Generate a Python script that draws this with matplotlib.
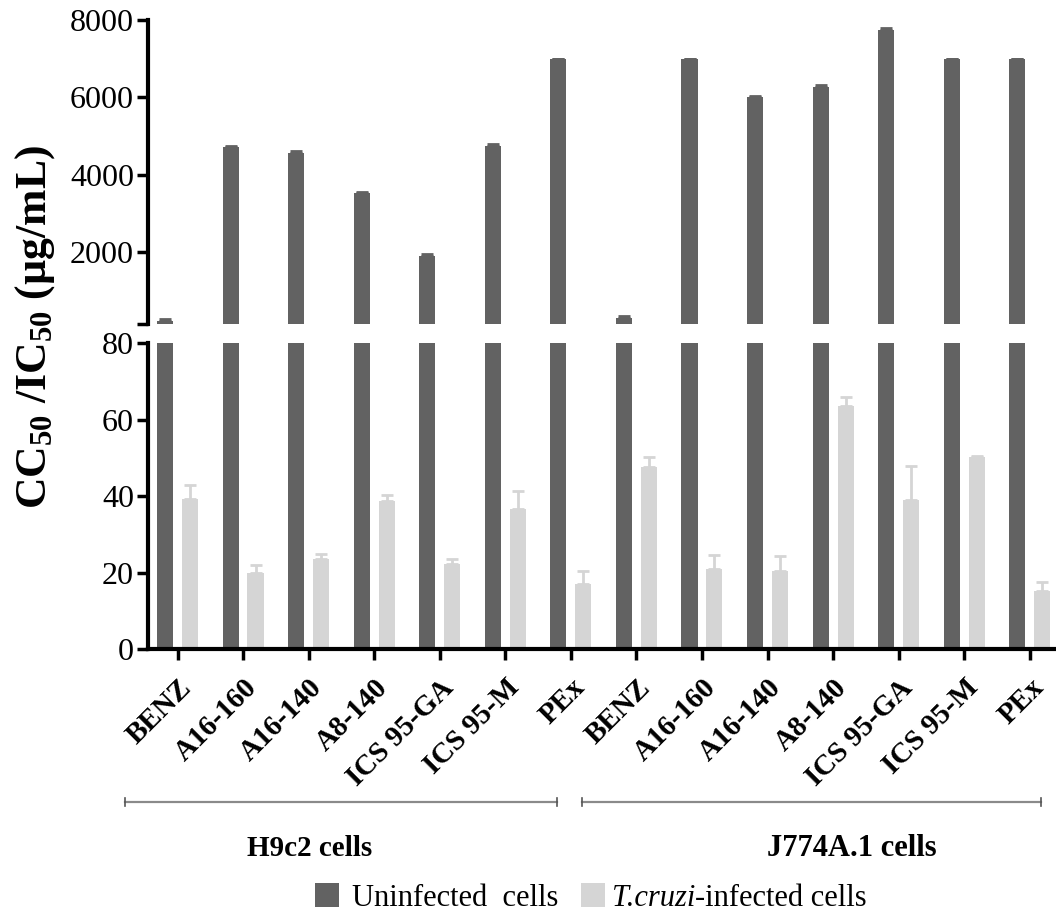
import matplotlib
matplotlib.use("Agg")
import matplotlib.pyplot as plt
from matplotlib.lines import Line2D
from matplotlib.patches import Rectangle
import numpy as np

plt.rcParams['font.family'] = ['Liberation Serif', 'DejaVu Serif']
plt.rcParams['mathtext.fontset'] = 'custom'
plt.rcParams['mathtext.rm'] = 'Liberation Serif'
plt.rcParams['mathtext.it'] = 'Liberation Serif:italic'
plt.rcParams['mathtext.bf'] = 'Liberation Serif:bold'

# ---- data ----
compounds = ["BENZ", "A16-160", "A16-140", "A8-140", "ICS 95-GA", "ICS 95-M", "PEx"]
cell_lines = ["H9c2 cells", "J774A.1 cells"]
categories = compounds + compounds

uninfected = [228, 4710, 4570, 3520, 1910, 4750, 7000,
              305, 7000, 6000, 6280, 7750, 7000, 7000]
uninfected_err = [40, 40, 40, 40, 40, 40, 0,
                  40, 0, 40, 40, 40, 0, 0]
infected = [39.3, 19.8, 23.4, 38.6, 22.2, 36.6, 17.0,
            47.5, 20.8, 20.4, 63.6, 38.9, 50.1, 15.1]
infected_err = [3.5, 2.1, 1.5, 1.6, 1.2, 4.6, 3.4,
                2.6, 3.9, 3.9, 2.2, 9.0, 0.4, 2.5]

legend_1 = "Uninfected  cells"
legend_2_it = "T.cruzi"
legend_2_rest = "-infected cells"
ylabel = r"CC$_{\mathbf{50}}$ /IC$_{\mathbf{50}}$ (µg/mL)"

dark = "#626262"
light = "#d5d5d5"

W, H = 1056, 913
fig = plt.figure(figsize=(W / 100, H / 100), dpi=100)

def fx(px):
    return px / W

def fy(py):
    return 1 - py / H

left = fx(148)
right = 1.0
ax_top = fig.add_axes([left, fy(324), right - left, fy(20) - fy(324)])
ax_bot = fig.add_axes([left, fy(649), right - left, fy(343) - fy(649)])

x = np.arange(len(categories))
off = 0.19
bw = 0.245

for ax in (ax_top, ax_bot):
    ax.bar(x - off, uninfected, width=bw, color=dark, zorder=2,
           yerr=[np.zeros(len(x)), uninfected_err], ecolor=dark,
           error_kw=dict(capsize=4, capthick=2, elinewidth=2))
    ax.bar(x + off, infected, width=bw, color=light, zorder=2,
           yerr=[np.zeros(len(x)), infected_err], ecolor=light,
           error_kw=dict(capsize=4, capthick=2, elinewidth=2))
    ax.set_xlim(-0.45, 13.4)
    for s in ("top", "right"):
        ax.spines[s].set_visible(False)
    ax.spines["left"].set_linewidth(3)
    ax.tick_params(axis="y", length=8, width=2.5, labelsize=23, pad=2)

# top (broken) axis
ax_top.set_ylim(150, 8000)
ax_top.set_yticks([150, 2000, 4000, 6000, 8000])
ax_top.set_yticklabels(["", "2000", "4000", "6000", "8000"])
ax_top.spines["bottom"].set_visible(False)
ax_top.tick_params(axis="x", bottom=False, labelbottom=False)

# bottom axis
ax_bot.set_ylim(0, 80)
ax_bot.set_yticks([0, 20, 40, 60, 80])
ax_bot.spines["bottom"].set_linewidth(3)
ax_bot.set_xticks(x)
ax_bot.set_xticklabels(categories, rotation=45, ha="right", va="top",
                       rotation_mode="anchor", fontsize=21, fontweight="bold")
ax_bot.tick_params(axis="x", length=8, width=2.5, pad=10)

# y label
fig.text(fx(35), fy(327), ylabel, rotation=90, ha="center", va="center",
         fontsize=31.5, fontweight="bold")

# group brackets
for (x0, x1) in [(125, 557), (582, 1041)]:
    fig.add_artist(Line2D([fx(x0), fx(x1)], [fy(802), fy(802)],
                          color="#8a8a8a", lw=1.6))
    for xe in (x0, x1):
        fig.add_artist(Line2D([fx(xe), fx(xe)], [fy(798), fy(806)],
                              color="#555555", lw=1.2))

fig.text(fx(310), fy(849), cell_lines[0], ha="center", va="center",
         fontsize=21, fontweight="bold")
fig.text(fx(852), fy(849), cell_lines[1], ha="center", va="center",
         fontsize=22, fontweight="bold")

# legend (manual)
sq = 24
ly = 895
fig.add_artist(Rectangle((fx(315), fy(ly + sq / 2)), fx(sq), sq / H,
                         facecolor=dark, edgecolor="none"))
t1 = fig.text(fx(352), fy(ly), legend_1, ha="left", va="center_baseline", fontsize=22)
fig.add_artist(Rectangle((fx(581), fy(ly + sq / 2)), fx(sq), sq / H,
                         facecolor=light, edgecolor="none"))
t2 = fig.text(fx(612), fy(ly), legend_2_it, ha="left", va="center_baseline",
              fontsize=22, fontstyle="italic")
fig.canvas.draw()
bb = t2.get_window_extent(renderer=fig.canvas.get_renderer())
fig.text(bb.x1 / W, fy(ly), legend_2_rest, ha="left", va="center_baseline", fontsize=22)

fig.savefig("out.png", dpi=100)
